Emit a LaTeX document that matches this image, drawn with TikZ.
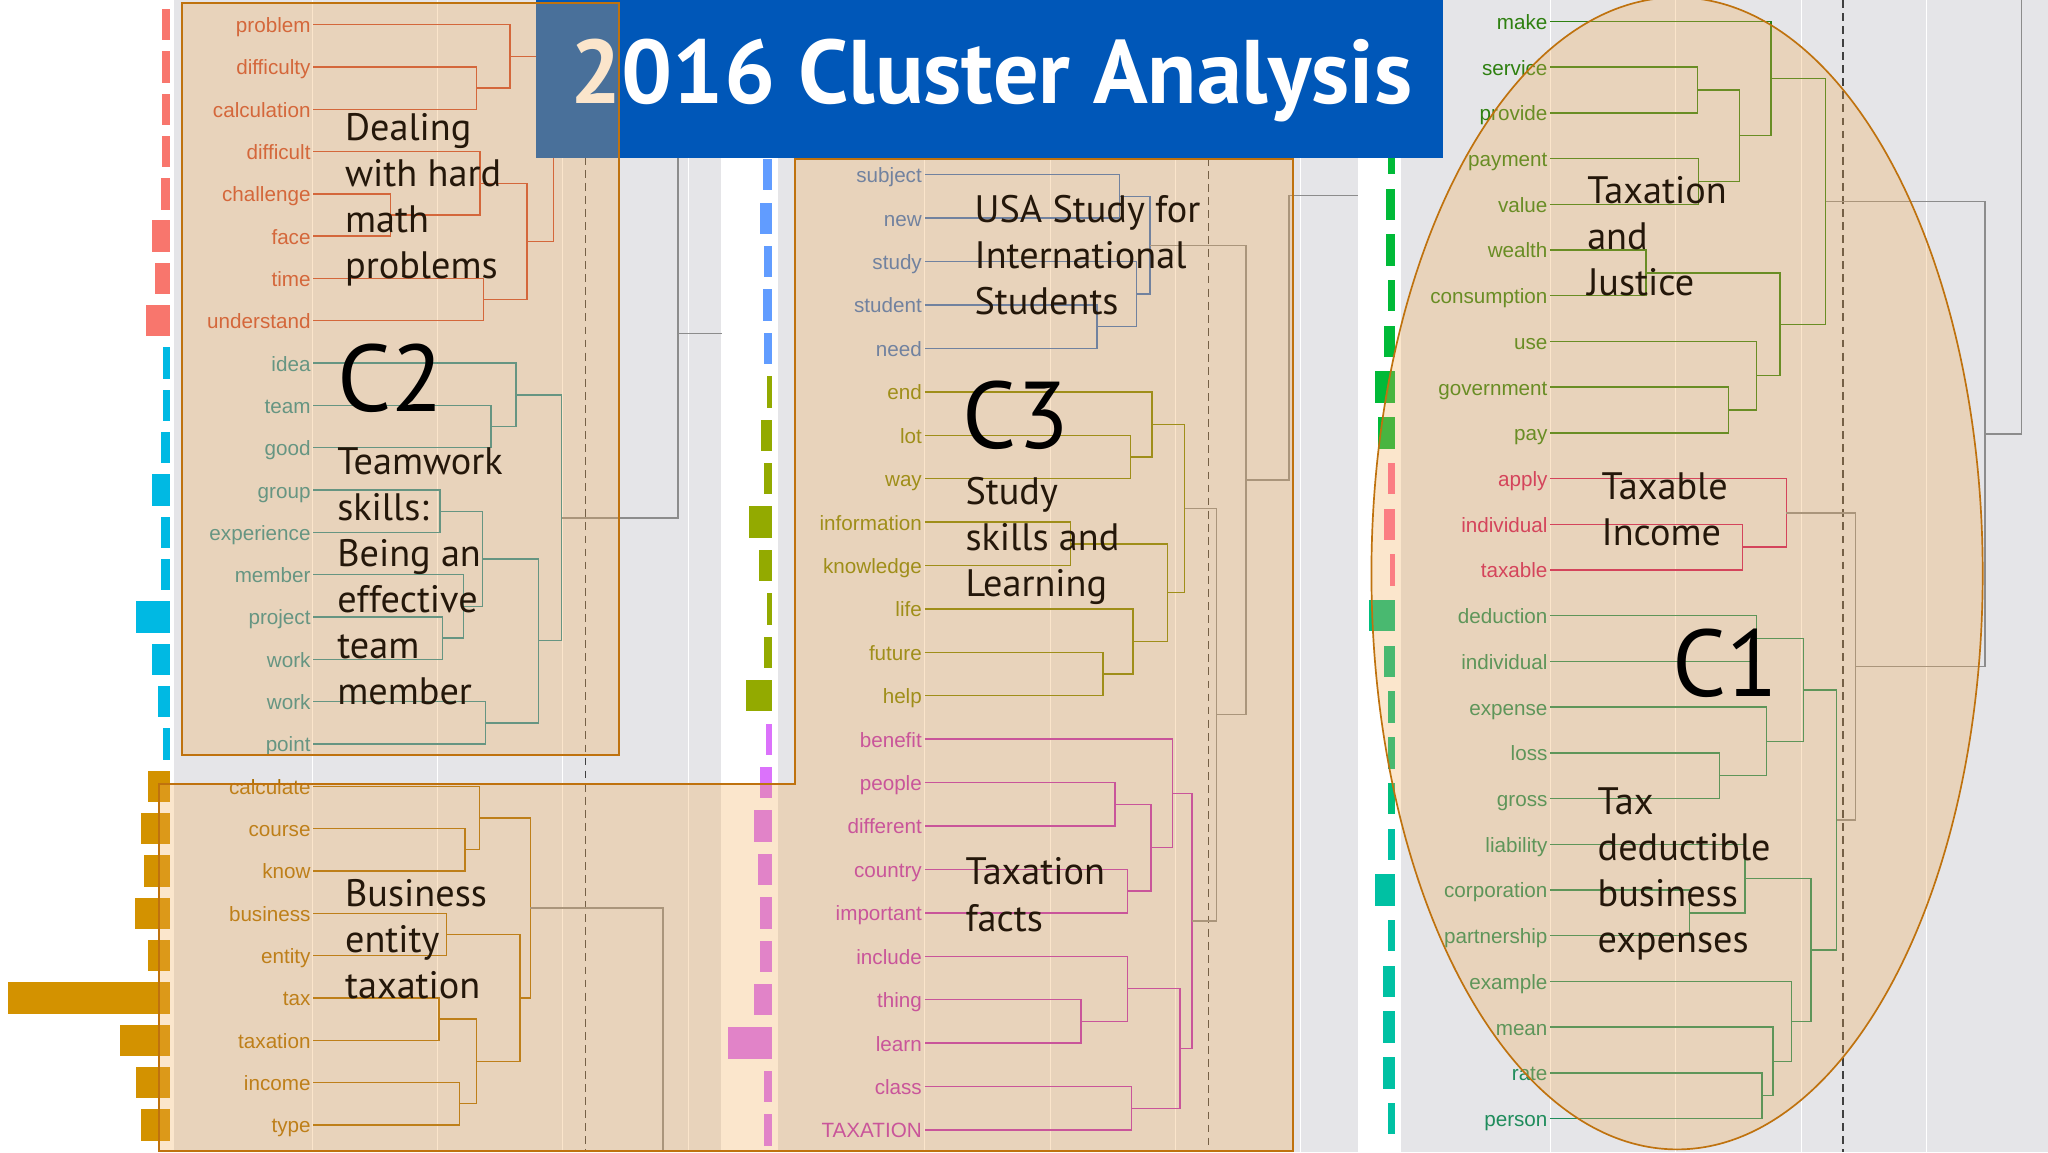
\documentclass[tikz,border=0pt]{standalone}
\usepackage{fontspec}
\setmainfont{Liberation Sans}
\newfontfamily\bigf{PT Sans}
\usetikzlibrary{calc}
\definecolor{gbg}{HTML}{E5E5E8}
\definecolor{tint}{HTML}{F2AC55}
\definecolor{bord}{HTML}{BF720E}
\definecolor{tblue}{HTML}{0057B8}
\definecolor{dk}{HTML}{24170A}
\definecolor{cRed}{HTML}{C84A30}
\definecolor{cTeal}{HTML}{2A8C96}
\definecolor{cOra}{HTML}{A86C00}
\definecolor{cBlue}{HTML}{3A70C0}
\definecolor{cOli}{HTML}{7C8200}
\definecolor{cMag}{HTML}{B830B8}
\definecolor{cGrn}{HTML}{2E8010}
\definecolor{cPnk}{HTML}{C8185E}
\definecolor{cTg}{HTML}{1F8C5C}
\definecolor{bRed}{HTML}{F8766D}
\definecolor{bCya}{HTML}{00B9E3}
\definecolor{bOra}{HTML}{D39200}
\definecolor{bBlu}{HTML}{619CFF}
\definecolor{bOli}{HTML}{93AA00}
\definecolor{bMag}{HTML}{DB72FB}
\definecolor{bGrn}{HTML}{00BA38}
\definecolor{bPnk}{HTML}{FF6A98}
\definecolor{bTg}{HTML}{00BF7D}
\definecolor{bTq}{HTML}{00C1A3}
\newcommand\dmerge[6]{\draw[dend,#1] (#2,#3) -| (#6,#5) -- (#4,#5);}
\newcommand\barr[4]{\fill[#1] ({#2-#4},{#3-12}) rectangle (#2,{#3+12});}
\newcommand\lab[5]{\node[lbl,text=#4] (#1) at (#2,{#3+3}) {#5};}
\begin{document}
\begin{tikzpicture}[x=0.03cm,y=-0.03cm,
  dend/.style={line width=0.9pt},
  lbl/.style={anchor=mid east,inner sep=0pt,font=\fontsize{13.5pt}{14pt}\selectfont},
  big/.style={anchor=west,align=left,inner sep=0pt,text=dk,font=\bigf\fontsize{25pt}{30.1pt}\selectfont},
  cl/.style={anchor=west,inner sep=0pt,text=black,font=\bigf\fontsize{62pt}{62pt}\selectfont},
  dsh/.style={line width=0.8pt,draw=black!75,dash pattern=on 0.18cm off 0.12cm},
  gl/.style={dend,draw=black!45}]
\useasboundingbox (0,0) rectangle (1568,882);
% backgrounds
\fill[gbg] (133,0) rectangle (552,882);
\fill[gbg] (596,0) rectangle (1040,882);
\fill[gbg] (1073,0) rectangle (1568,882);
\foreach \x in {239,335,431,527}{\draw[white,line width=0.6pt] (\x,0) -- (\x,882);}
\foreach \x in {708,804,900,996}{\draw[white,line width=0.6pt] (\x,0) -- (\x,882);}
\foreach \x in {1187,1283,1379,1475}{\draw[white,line width=0.6pt] (\x,0) -- (\x,882);}
% dashed cut lines
\draw[dsh] (448,0) -- (448,882);
\draw[dsh] (925,121) -- (925,882);
\draw[dsh] (1411,0) -- (1411,882);
% ---- bars left
\foreach \w [count=\i from 0] in {6,6,6,6,7,14,11,18}{\barr{bRed}{130}{18.8+32.4*\i}{\w}}
\foreach \w [count=\i from 8] in {5,5,7,14,7,7,26,14,9,5}{\barr{bCya}{130}{18.8+32.4*\i}{\w}}
\foreach \w [count=\i from 18] in {17,22,20,27,17,124,38,26,22}{\barr{bOra}{130}{18.8+32.4*\i}{\w}}
% bars middle
\foreach \w [count=\i from 0] in {6.5,9,6,7,6}{\barr{bBlu}{591}{133.8+33.24*\i}{\w}}
\foreach \w [count=\i from 5] in {4,8,6,17.5,10,4,6,20}{\barr{bOli}{591}{133.8+33.24*\i}{\w}}
\foreach \w [count=\i from 13] in {4.4,9,14,10.6,9,9,14,34,6,6}{\barr{bMag}{591}{133.8+33.24*\i}{\w}}
% bars right
\foreach \w [count=\i from 0] in {5,5,5,5,7,7,5,8.5,15,13}{\barr{bGrn}{1068}{16.4+35*\i}{\w}}
\foreach \w [count=\i from 10] in {5,8.5,4}{\barr{bPnk}{1068}{16.4+35*\i}{\w}}
\foreach \w [count=\i from 13] in {20,8.5,5,5,5}{\barr{bTg}{1068}{16.4+35*\i}{\w}}
\foreach \w [count=\i from 18] in {5,15,5,9.5,9.5,9.5,5}{\barr{bTq}{1068}{16.4+35*\i}{\w}}
% ---- left dendrogram
\dmerge{cRed}{240}{51.2}{240}{83.6}{365}
\dmerge{cRed}{240}{18.8}{365}{67.4}{390.6}
\dmerge{cRed}{240}{148.4}{240}{180.8}{299}
\dmerge{cRed}{240}{116}{299}{164.6}{367.6}
\dmerge{cRed}{240}{213.2}{240}{245.6}{370}
\dmerge{cRed}{367.6}{140.3}{370}{229.4}{403.5}
\dmerge{cRed}{390.6}{43.1}{403.5}{184.9}{424}
\dmerge{cTeal}{240}{310.4}{240}{342.8}{376}
\dmerge{cTeal}{240}{278}{376}{326.6}{395}
\dmerge{cTeal}{240}{375.2}{240}{407.6}{337}
\dmerge{cTeal}{240}{472.4}{240}{504.8}{339}
\dmerge{cTeal}{240}{440}{339}{488.6}{355}
\dmerge{cTeal}{337}{391.4}{355}{464.3}{369.5}
\dmerge{cTeal}{240}{537.2}{240}{569.6}{371.5}
\dmerge{cTeal}{369.5}{427.9}{371.5}{553.4}{412.5}
\dmerge{cTeal}{395}{302.3}{412.5}{490.6}{430}
\dmerge{gl}{424}{114}{430}{396.5}{519}
\draw[gl] (519,255.3) -- (553,255.3);
\dmerge{cOra}{240}{634.4}{240}{666.8}{356}
\dmerge{cOra}{240}{602}{356}{650.6}{367}
\dmerge{cOra}{240}{699.2}{240}{731.6}{342}
\dmerge{cOra}{240}{764}{240}{796.4}{336}
\dmerge{cOra}{240}{828.8}{240}{861.2}{352}
\dmerge{cOra}{336}{780.2}{352}{845}{364.6}
\dmerge{cOra}{342}{715.4}{364.6}{812.6}{398}
\dmerge{cOra}{367}{626.3}{398}{764}{406}
\draw[gl] (406,695.2) -| (507.5,882);
% ---- middle dendrogram
\dmerge{cBlue}{708}{133.8}{708}{167}{857}
\dmerge{cBlue}{708}{233.5}{708}{266.8}{840}
\dmerge{cBlue}{708}{200.3}{840}{250.2}{870}
\dmerge{cBlue}{857}{150.4}{870}{225.2}{880.6}
\dmerge{cOli}{708}{333.2}{708}{366.5}{865.6}
\dmerge{cOli}{708}{300}{865.6}{349.9}{882}
\dmerge{cOli}{708}{399.7}{708}{433}{819.6}
\dmerge{cOli}{708}{499.4}{708}{532.7}{844.6}
\dmerge{cOli}{708}{466.2}{844.6}{516.1}{867.4}
\dmerge{cOli}{819.6}{416.4}{867.4}{491.1}{893.7}
\dmerge{cOli}{882}{325}{893.7}{453.8}{907}
\dmerge{cMag}{708}{599.2}{708}{632.4}{853.8}
\dmerge{cMag}{708}{665.6}{708}{698.9}{863}
\dmerge{cMag}{853.8}{615.8}{863}{682.3}{881.1}
\dmerge{cMag}{708}{565.9}{881.1}{649}{897.5}
\dmerge{cMag}{708}{765.4}{708}{798.6}{827.5}
\dmerge{cMag}{708}{732.1}{827.5}{782}{863}
\dmerge{cMag}{708}{831.8}{708}{865.1}{866.4}
\dmerge{cMag}{863}{757}{866.4}{848.5}{903.3}
\dmerge{cMag}{897.5}{607.5}{903.3}{802.7}{912.5}
\dmerge{gl}{907}{389.4}{912.5}{705.1}{931.5}
\dmerge{gl}{880.6}{187.8}{931.5}{547.2}{954}
\draw[gl] (954,367.5) -| (987,149.6) -- (1040,149.6);
% ---- right dendrogram
\dmerge{cGrn}{1187}{51.4}{1187}{86.4}{1299.5}
\dmerge{cGrn}{1187}{121.4}{1187}{156.4}{1300.5}
\dmerge{cGrn}{1299.5}{68.9}{1300.5}{138.9}{1331.9}
\dmerge{cGrn}{1187}{16.4}{1331.9}{103.9}{1355.8}
\dmerge{cGrn}{1187}{191.4}{1187}{226.4}{1260.3}
\dmerge{cGrn}{1187}{296.4}{1187}{331.4}{1323.4}
\dmerge{cGrn}{1187}{261.4}{1323.4}{313.9}{1344.8}
\dmerge{cGrn}{1260.3}{208.9}{1344.8}{287.7}{1362.9}
\dmerge{cGrn}{1355.8}{60.2}{1362.9}{248.3}{1397.7}
\dmerge{cPnk}{1187}{401.4}{1187}{436.4}{1334.3}
\dmerge{cPnk}{1187}{366.4}{1334.3}{418.9}{1367.7}
\dmerge{cTg}{1187}{471.4}{1187}{506.4}{1344.8}
\dmerge{cTg}{1187}{576.4}{1187}{611.4}{1316.6}
\dmerge{cTg}{1187}{541.4}{1316.6}{593.9}{1352.3}
\dmerge{cTg}{1344.8}{488.9}{1352.3}{567.7}{1380.6}
\dmerge{cTg}{1187}{681.4}{1187}{716.4}{1293.4}
\dmerge{cTg}{1187}{646.4}{1293.4}{698.9}{1336}
\dmerge{cTg}{1187}{821.4}{1187}{856.4}{1349}
\dmerge{cTg}{1187}{786.4}{1349}{838.9}{1357.5}
\dmerge{cTg}{1187}{751.4}{1357.5}{812.7}{1371.8}
\dmerge{cTg}{1336}{672.7}{1371.8}{782}{1386.4}
\dmerge{cTg}{1380.6}{528.3}{1386.4}{727.4}{1406.2}
\dmerge{gl}{1367.7}{392.7}{1406.2}{627.9}{1420.5}
\dmerge{gl}{1397.7}{154.3}{1420.5}{510.3}{1519.7}
\draw[gl] (1519.7,332.3) -- (1547.7,332.3) -- (1547.7,0);
% ---- labels left
\foreach \t [count=\i from 0] in {problem,difficulty,calculation,difficult,challenge,face,time,understand}{\lab{L\i}{238}{18.8+32.4*\i}{cRed}{\t}}
\foreach \t [count=\i from 8] in {idea,team,good,group,experience,member,project,work,work,point}{\lab{L\i}{238}{18.8+32.4*\i}{cTeal}{\t}}
\foreach \t [count=\i from 18] in {calculate,course,know,business,entity,tax,taxation,income,type}{\lab{L\i}{238}{18.8+32.4*\i}{cOra}{\t}}
% labels middle
\foreach \t [count=\i from 0] in {subject,new,study,student,need}{\lab{M\i}{706}{133.8+33.24*\i}{cBlue}{\t}}
\foreach \t [count=\i from 5] in {end,lot,way,information,knowledge,life,future,help}{\lab{M\i}{706}{133.8+33.24*\i}{cOli}{\t}}
\foreach \t [count=\i from 13] in {benefit,people,different,country,important,include,thing,learn,class,TAXATION}{\lab{M\i}{706}{133.8+33.24*\i}{cMag}{\t}}
% labels right
\foreach \t [count=\i from 0] in {make,service,provide,payment,value,wealth,consumption,use,government,pay}{\lab{R\i}{1185}{16.4+35*\i}{cGrn}{\t}}
\foreach \t [count=\i from 10] in {apply,individual,taxable}{\lab{R\i}{1185}{16.4+35*\i}{cPnk}{\t}}
\foreach \t [count=\i from 13] in {deduction,individual,expense,loss,gross,liability,corporation,partnership,example,mean,rate,person}{\lab{R\i}{1185}{16.4+35*\i}{cTg}{\t}}
% ---- title
\fill[tblue] (410,0) rectangle (1105,121);
\node[text=white,font=\bigf\bfseries\fontsize{59pt}{59pt}\selectfont,inner sep=0pt] (title) at (759,62) {2016 Cluster Analysis};
% ---- highlight shapes
\fill[tint,opacity=0.3] (139,2) rectangle (474,578);
\fill[tint,opacity=0.3] (122,882) -- (122,600) -- (609,600) -- (609,122) -- (990,122) -- (990,882) -- cycle;
\fill[tint,opacity=0.3] (1284,439) ellipse [x radius=234, y radius=441];
\draw[bord,line width=1.3pt] (139,2) rectangle (474,578);
\draw[bord,line width=1.3pt] (122,881) -- (122,600) -- (609,600) -- (609,122) -- (990,122) -- (990,881) -- cycle;
\draw[bord,line width=1.1pt] (1284,439) ellipse [x radius=234, y radius=441];
% ---- annotations
\node[big] (t1) at (264,153) {Dealing\\with hard\\math\\problems};
\node[cl] (c2) at (258,290) {C2};
\node[big] (t2) at (258,441) {Teamwork\\skills:\\Being an\\effective\\team\\member};
\node[big] (t3) at (264,719) {Business\\entity\\taxation};
\node[big] (t4) at (746,195) {USA Study for\\International\\Students};
\node[cl] (c3) at (737,318) {C3};
\node[big] (t5) at (739,414) {Study\\skills and\\Learning};
\node[big] (t6) at (739,685) {Taxation\\facts};
\node[big] (t7) at (1215,181) {Taxation\\and\\Justice};
\node[big] (t8) at (1226,390) {Taxable\\Income};
\node[cl] (c1) at (1280,508) {C1};
\node[big] (t9) at (1223,669) {Tax\\deductible\\business\\expenses};
\end{tikzpicture}
\end{document}
